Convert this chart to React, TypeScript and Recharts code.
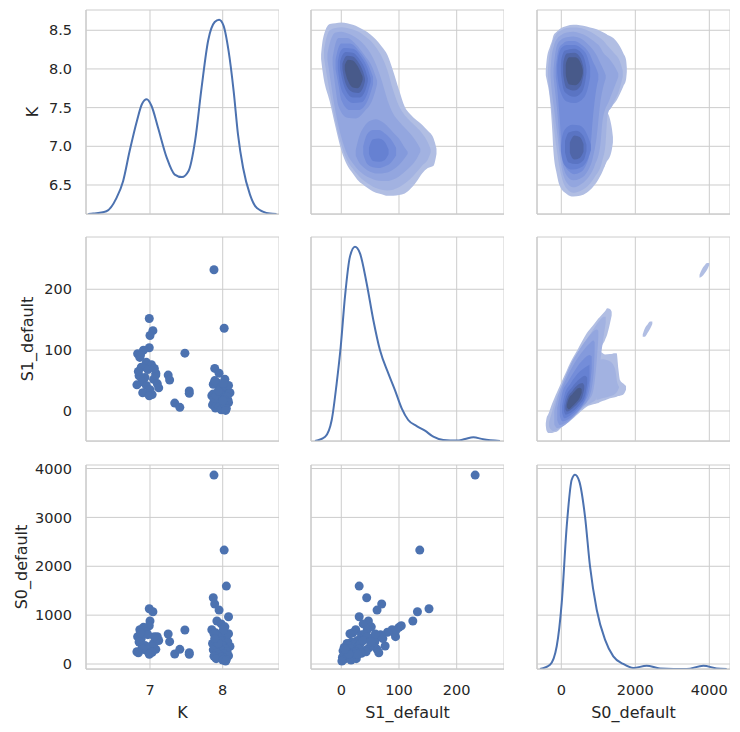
import React from 'react';
import { ComposedChart, Scatter, Line, Area, XAxis, YAxis, CartesianGrid, Label } from 'recharts';

const K = [
  7.88, 8.02, 8.05, 7.87, 7.89, 7.95, 8.08, 7.92, 7.98, 7.85,
  8.03, 7.90, 7.95, 8.05, 7.88, 7.97, 8.07, 7.86, 7.93, 8.00,
  8.10, 7.90, 7.96, 8.04, 7.87, 7.99, 8.06, 7.92, 8.02, 7.95,
  8.08, 7.88, 7.98, 8.03, 7.91, 8.05, 8.00, 8.04, 7.94, 8.08,
  7.89, 8.01,
  6.99, 7.04, 7.00, 6.99, 6.91, 6.83, 6.86, 6.95, 7.02, 6.88,
  6.97, 7.08, 6.85, 6.93, 7.05, 6.89, 7.10, 6.95, 6.82, 7.12,
  7.00, 6.90, 7.03, 6.99, 7.08, 6.87, 7.06, 6.84,
  7.25, 7.27, 7.34, 7.41, 7.54, 7.54, 7.48,
];
const S1 = [
  232, 136, 31, 44, 70, 62, 31, 47, 38, 25,
  52, 20, 35, 40, 15, 28, 18, 10, 22, 12,
  30, 5, 16, 8, 28, 3, 24, 12, 19, 7,
  14, 21, 2, 10, 26, 4, 17, 1, 33, 42,
  50, 45,
  152, 132, 124, 104, 100, 94, 88, 80, 76, 72,
  68, 62, 58, 55, 52, 48, 45, 42, 43, 38,
  35, 30, 27, 25, 59, 92, 70, 65,
  59, 51, 13, 6, 33, 29, 95,
];
const S0 = [
  3865, 2331, 1595, 1356, 1227, 1104, 967, 880, 820, 700,
  760, 640, 600, 560, 620, 480, 450, 420, 400, 380,
  360, 340, 320, 300, 290, 270, 250, 230, 210, 190,
  170, 160, 140, 120, 110, 90, 80, 60, 420, 620,
  520, 700,
  1131, 1070, 879, 783, 750, 560, 700, 650, 368, 520,
  600, 300, 450, 380, 420, 330, 560, 280, 250, 480,
  220, 300, 240, 200, 520, 640, 560, 230,
  613, 457, 204, 300, 232, 200, 695,
];

// ---------- diagonal density curves [value, relative density] ----------
const kdeK = [
  [6.15, 0], [6.22, 0.002], [6.40, 0.014], [6.54, 0.083], [6.63, 0.169], [6.72, 0.324], [6.82, 0.479],
  [6.89, 0.566], [6.955, 0.59], [7.02, 0.557], [7.11, 0.445], [7.23, 0.29], [7.34, 0.203],
  [7.44, 0.19], [7.53, 0.221], [7.62, 0.376], [7.71, 0.652], [7.80, 0.893], [7.89, 0.988],
  [7.95, 1.0], [8.01, 0.971], [8.08, 0.841], [8.15, 0.634], [8.21, 0.41], [8.28, 0.238],
  [8.375, 0.1], [8.47, 0.031], [8.65, 0.002], [8.74, 0],
];
const kdeS1 = [
  [-45.6, 0], [-28, 0.022], [-16.6, 0.108], [-8, 0.297], [-1, 0.485], [6.4, 0.743], [15, 0.949],
  [23.7, 1.0], [32.4, 0.966], [44, 0.811], [55.5, 0.623], [67, 0.468], [81.5, 0.348],
  [93, 0.262], [104.7, 0.168], [116, 0.108], [130.7, 0.077], [145, 0.053], [159.5, 0.022],
  [176.8, 0.005], [200, 0.002], [214.4, 0.010], [228.8, 0.019], [246, 0.009], [275, 0],
];
const kdeS0 = [
  [-576, 0], [-305, 0.022], [-124, 0.117], [11, 0.34], [146, 0.734], [281, 0.974], [370, 1.0],
  [486, 0.966], [640, 0.786], [776, 0.528], [957, 0.305], [1181, 0.151], [1405, 0.065],
  [1676, 0.026], [1946, 0.005], [2308, 0.017], [2668, 0.003], [3389, 0], [3838, 0.017],
  [4200, 0.003], [4470, 0],
];

// ---------- density contours, [x, low, high], level 1 (outer) .. 9 (inner) ----------
// panel x = S1_default, y = K
const ks1L1 = [[-35, 8.13, 8.19], [-32, 7.95, 8.38], [-20, 7.58, 8.58], [-10, 7.25, 8.59], [0, 6.95, 8.60], [10, 6.76, 8.59], [20, 6.65, 8.57], [30, 6.55, 8.54], [40, 6.49, 8.50], [50, 6.44, 8.45], [60, 6.40, 8.38], [70, 6.38, 8.29], [80, 6.36, 8.18], [90, 6.36, 7.97], [100, 6.37, 7.73], [110, 6.39, 7.51], [120, 6.45, 7.41], [130, 6.54, 7.34], [140, 6.65, 7.28], [150, 6.72, 7.20], [160, 6.75, 7.10], [165, 6.90, 6.97]];
const ks1L2 = [[-30, 8.15, 8.25], [-28, 8.05, 8.33], [-20, 7.70, 8.50], [-10, 7.32, 8.53], [0, 7.02, 8.54], [10, 6.82, 8.53], [20, 6.71, 8.51], [30, 6.62, 8.48], [40, 6.55, 8.43], [50, 6.50, 8.37], [60, 6.46, 8.28], [70, 6.44, 8.16], [80, 6.43, 7.98], [90, 6.44, 7.72], [100, 6.47, 7.52], [110, 6.52, 7.40], [120, 6.58, 7.32], [130, 6.66, 7.25], [140, 6.75, 7.17], [150, 6.83, 7.05], [155, 6.92, 6.96]];
const ks1L3 = [[-24, 8.12, 8.2], [-22, 8.02, 8.27], [-10, 7.45, 8.47], [0, 7.12, 8.48], [10, 6.90, 8.46], [20, 6.78, 8.43], [30, 6.69, 8.38], [40, 6.63, 8.31], [50, 6.59, 8.21], [60, 6.56, 8.06], [70, 6.55, 7.85], [80, 6.55, 7.60], [90, 6.57, 7.42], [100, 6.61, 7.32], [110, 6.67, 7.24], [120, 6.74, 7.16], [130, 6.83, 7.06], [137, 6.93, 6.97]];
const ks1L4u = [[-15, 8.05, 8.15], [-10, 7.75, 8.33], [-5, 7.52, 8.40], [10, 7.37, 8.40], [25, 7.36, 8.32], [40, 7.45, 8.18], [55, 7.62, 8.00], [62, 7.80, 7.85]];
const ks1L5u = [[-10, 8.0, 8.12], [-5, 7.80, 8.27], [0, 7.60, 8.33], [15, 7.47, 8.33], [30, 7.47, 8.24], [45, 7.58, 8.08], [55, 7.80, 7.90]];
const ks1L6u = [[-6, 8.0, 8.1], [-2, 7.8, 8.22], [5, 7.66, 8.27], [20, 7.56, 8.26], [35, 7.57, 8.15], [46, 7.70, 8.00], [51, 7.83, 7.88]];
const ks1L7u = [[-2, 8.0, 8.1], [2, 7.85, 8.18], [8, 7.72, 8.22], [20, 7.63, 8.21], [32, 7.63, 8.12], [42, 7.73, 7.98], [46, 7.84, 7.88]];
const ks1L8u = [[2, 8.0, 8.07], [5, 7.88, 8.13], [10, 7.77, 8.17], [20, 7.70, 8.16], [30, 7.69, 8.08], [38, 7.76, 7.96], [41, 7.84, 7.88]];
const ks1L9u = [[6, 7.99, 8.05], [9, 7.90, 8.10], [12, 7.84, 8.12], [20, 7.76, 8.11], [28, 7.75, 8.04], [34, 7.80, 7.95], [37, 7.86, 7.90]];
const ks1L4l = [[25, 6.88, 6.95], [30, 6.80, 7.10], [40, 6.72, 7.26], [50, 6.67, 7.33], [60, 6.65, 7.35], [70, 6.65, 7.32], [80, 6.66, 7.26], [90, 6.70, 7.18], [100, 6.76, 7.10], [110, 6.85, 6.98], [115, 6.90, 6.93]];
const ks1L5l = [[38, 6.90, 7.00], [45, 6.77, 7.16], [55, 6.73, 7.21], [65, 6.72, 7.21], [75, 6.74, 7.17], [85, 6.78, 7.10], [95, 6.88, 6.98]];
const ks1L6l = [[48, 6.90, 6.98], [55, 6.81, 7.09], [65, 6.80, 7.10], [75, 6.82, 7.06], [82, 6.90, 6.96]];

// panel x = S0_default, y = K
const ks0L1 = [[-420, 7.92, 7.98], [-395, 7.86, 8.12], [-305, 7.60, 8.29], [-240, 7.17, 8.38], [-215, 6.95, 8.43], [-126, 6.65, 8.48], [-35, 6.48, 8.52], [145, 6.385, 8.555], [325, 6.35, 8.57], [505, 6.36, 8.565], [686, 6.40, 8.55], [866, 6.48, 8.525], [1046, 6.61, 8.495], [1181, 6.76, 8.46], [1244, 6.87, 8.44]];
const ks0L1u = [[1200, 7.46, 8.45], [1300, 7.47, 8.43], [1406, 7.54, 8.40], [1500, 7.60, 8.35], [1586, 7.68, 8.29], [1680, 7.78, 8.20], [1749, 7.86, 8.12], [1770, 7.96, 8.02]];
const ks0L1l = [[1150, 6.72, 7.45], [1226, 6.80, 7.44], [1316, 6.87, 7.35], [1370, 6.97, 7.22], [1395, 7.05, 7.12]];
const ks0L2 = [[-360, 7.9, 8.0], [-330, 7.75, 8.14], [-250, 7.45, 8.33], [-150, 7.05, 8.44], [0, 6.62, 8.50], [150, 6.45, 8.53], [325, 6.40, 8.535], [500, 6.42, 8.53], [700, 6.48, 8.50], [900, 6.60, 8.45], [1100, 6.80, 8.38], [1200, 7.05, 8.33], [1250, 7.40, 8.30], [1400, 7.55, 8.22], [1580, 7.75, 8.10], [1660, 7.90, 7.98]];
const ks0L3 = [[-290, 7.9, 8.0], [-270, 7.78, 8.12], [-200, 7.50, 8.30], [-100, 7.12, 8.40], [0, 6.75, 8.44], [150, 6.53, 8.47], [325, 6.47, 8.48], [500, 6.50, 8.46], [700, 6.58, 8.42], [900, 6.75, 8.35], [1050, 7.00, 8.28], [1120, 7.35, 8.22], [1300, 7.60, 8.13], [1480, 7.82, 8.00], [1540, 7.90, 7.94]];
const ks0L4 = [[-210, 7.9, 8.0], [-200, 7.85, 8.05], [-120, 7.50, 8.30], [0, 6.88, 8.38], [150, 6.62, 8.41], [325, 6.56, 8.42], [500, 6.58, 8.40], [700, 6.67, 8.33], [850, 6.85, 8.25], [950, 7.10, 8.18], [1050, 7.55, 8.08], [1150, 7.80, 7.98], [1200, 7.88, 7.92]];
const ks0L5 = [[-150, 7.9, 8.02], [-100, 7.7, 8.2], [-50, 7.40, 8.28], [50, 6.82, 8.33], [200, 6.68, 8.36], [350, 6.64, 8.36], [500, 6.66, 8.33], [650, 6.74, 8.27], [780, 6.95, 8.18], [850, 7.35, 8.10], [950, 7.75, 8.00], [1000, 7.86, 7.93]];
const ks0L6u = [[-110, 7.95, 8.05], [-100, 7.90, 8.10], [0, 7.68, 8.27], [150, 7.58, 8.31], [350, 7.56, 8.31], [550, 7.60, 8.26], [700, 7.72, 8.16], [780, 7.90, 8.02]];
const ks0L7u = [[-10, 7.95, 8.06], [0, 7.90, 8.12], [100, 7.70, 8.24], [350, 7.64, 8.26], [550, 7.70, 8.20], [660, 7.88, 8.06], [680, 7.95, 8.0]];
const ks0L8u = [[50, 7.95, 8.05], [60, 7.90, 8.10], [150, 7.75, 8.20], [350, 7.72, 8.21], [520, 7.78, 8.14], [600, 7.92, 8.02]];
const ks0L9u = [[120, 7.95, 8.04], [130, 7.90, 8.08], [220, 7.80, 8.15], [380, 7.79, 8.15], [530, 7.86, 8.07], [580, 7.94, 7.99]];
const ks0L6l = [[-10, 6.94, 7.0], [0, 6.90, 7.05], [100, 6.75, 7.22], [300, 6.70, 7.28], [500, 6.72, 7.27], [700, 6.82, 7.15], [800, 6.95, 7.02]];
const ks0L7l = [[100, 6.92, 7.07], [200, 6.79, 7.18], [400, 6.77, 7.20], [600, 6.82, 7.13], [680, 6.94, 7.02]];
const ks0L8l = [[230, 6.92, 7.05], [260, 6.88, 7.08], [350, 6.83, 7.14], [500, 6.85, 7.12], [600, 6.93, 7.03]];

// panel x = S0_default, y = S1_default
const s0s1L1 = [[-420, -24, -20], [-400, -32, -12], [-350, -36, -5], [-250, -36, 12], [-171, -34.5, 23.6], [-126, -34, 29.5], [0, -27, 47], [145, -20.3, 66.3], [235, -16.4, 78.3], [460, -4.4, 103], [686, 7.1, 127.6], [866, 11, 141.4], [1000, 14, 152], [1046, 97, 155], [1181, 116.7, 163.7], [1244, 126.5, 168.7], [1316, 144, 167.6], [1361, 157, 163]];
const s0s1L1p = [[980, 12.5, 95], [1046, 14.8, 97.4], [1181, 17.6, 93], [1316, 20.8, 93.5], [1450, 22.5, 95], [1496, 23.6, 94.8], [1541, 24.5, 70], [1586, 25, 51], [1676, 27, 45], [1749, 35, 41]];
const s0s1I1 = [[2200, 122, 126], [2260, 122, 136], [2330, 128, 142], [2400, 135, 147], [2460, 143, 147]];
const s0s1I2 = [[3735, 219, 224], [3800, 221, 233], [3870, 226, 239], [3940, 232, 243], [4000, 240, 243]];
const s0s1L2 = [[-330, -26, -18], [-300, -29, -12], [-200, -33, 10], [0, -26, 40], [200, -16, 66], [400, -5, 90], [600, 6, 110], [800, 13, 128], [950, 20, 142], [1050, 80, 150], [1150, 125, 155], [1200, 145, 155]];
const s0s1L2p = [[950, 18, 80], [1100, 21, 85], [1300, 24, 82], [1450, 28, 70], [1520, 33, 45], [1560, 38, 40]];
const s0s1L3 = [[-190, -22, 0], [-110, -28, 20], [100, -23, 55], [300, -12, 82], [500, 1, 102], [700, 15, 119], [850, 30, 130], [960, 85, 134], [1000, 120, 132]];
const s0s1L4 = [[-110, -15, 5], [-40, -23, 25], [150, -18, 55], [350, -8, 78], [550, 6, 96], [750, 22, 110], [870, 60, 116], [900, 100, 113]];
const s0s1L5 = [[-40, -8, 8], [20, -17, 28], [200, -13, 50], [400, -3, 70], [600, 12, 85], [760, 35, 92], [820, 70, 90]];
const s0s1L6 = [[20, -3, 8], [80, -12, 25], [250, -7, 45], [450, 4, 62], [650, 20, 72], [760, 50, 76]];
const s0s1L7 = [[70, 0, 8], [120, -6, 22], [300, -1, 40], [500, 11, 53], [640, 25, 58], [700, 45, 55]];
const s0s1L8 = [[110, 3, 8], [160, -1, 20], [300, 4, 33], [450, 13, 43], [570, 24, 46], [620, 36, 42]];
const s0s1L9 = [[150, 6, 10], [200, 3, 20], [300, 8, 28], [400, 14, 35], [500, 22, 38], [550, 30, 36]];

// ---------- ticks ----------
const kTicks = [7, 8];
const kYTicks = [6.5, 7, 7.5, 8, 8.5];
const s1Ticks = [0, 100, 200];
const s0XTicks = [0, 2000, 4000];
const s0YTicks = [0, 1000, 2000, 3000, 4000];

const BLUE = '#4c72b0';
const BANDS = ['#b1bee3', '#a2b2e1', '#93a6df', '#849adc', '#748dd9', '#6681d2', '#5a74c3', '#5066a8', '#485a8a'];
const GRID = '#cccccc';
const TXT = '#262626';
const FONT = 'DejaVu Sans';

const PW = 193;
const PH = 204;
const YW = 86;
const XH = 70;
const MT = 12;
const COLS = [86, 311, 537];
const ROWS = [10, 237, 465];

const xy = (xs: number[], ys: number[]) => xs.map((x, i) => ({ x, y: ys[i] }));
const pairs = (arr: number[][]) => arr.map(([x, y]) => ({ x, y }));
const range = (arr: number[][]) => arr.map(([x, lo, hi]) => ({ x, r: [lo, hi] }));

const TICK = { fill: TXT, fontSize: 14.5, fontFamily: FONT };
const NoTick = () => <g />;
const dot = (p: any) => <circle cx={p.cx} cy={p.cy} r={4.5} fill={BLUE} />;

const kX: [number, number] = [6.12, 8.774];
const kY: [number, number] = [6.125, 8.762];
const s1X: [number, number] = [-52.5, 282];
const s1Y: [number, number] = [-49.3, 285.9];
const s0X: [number, number] = [-657, 4559];
const s0Y: [number, number] = [-102, 4072];

type PanelProps = {
  col: number;
  row: number;
  xd: [number, number];
  xt: number[];
  yd: [number, number];
  yt: number[];
  yFmt?: (v: number) => string;
  xLabel?: string;
  yLabel?: string;
  yLabelX?: number;
  kde?: boolean;
  layers?: [number[][], number][];
  children?: React.ReactNode;
};

function Panel({ col, row, xd, xt, yd, yt, yFmt, xLabel, yLabel, yLabelX, kde, layers, children }: PanelProps) {
  const left = COLS[col] - YW;
  const top = ROWS[row] - MT;
  const showX = row === 2;
  const showY = col === 0;
  const W = YW + PW;
  const H = MT + PH + XH;
  return (
    <div style={{ position: 'absolute', left, top, width: W, height: H }}>
      <div style={{ position: 'absolute', left: 0, top: 0 }}>
        <ComposedChart width={W} height={H} margin={{ top: MT, right: 0, bottom: 0, left: 0 }}>
          <CartesianGrid stroke={GRID} strokeWidth={1} fill="none" />
          <XAxis
            type="number"
            dataKey="x"
            domain={xd}
            ticks={xt}
            allowDataOverflow
            interval={0}
            height={XH}
            tickSize={0}
            tickMargin={16}
            tickLine={false}
            axisLine={{ stroke: GRID, strokeWidth: 1.25 }}
            tick={showX ? TICK : NoTick}
          >
            {xLabel ? (
              <Label
                content={() => (
                  <text x={YW + PW / 2} y={MT + PH + 49} textAnchor="middle" fill={TXT} fontSize={16} fontFamily={FONT}>
                    {xLabel}
                  </text>
                )}
              />
            ) : null}
          </XAxis>
          <YAxis
            type="number"
            domain={yd}
            ticks={yt}
            allowDataOverflow
            interval={0}
            width={YW}
            tickSize={0}
            tickMargin={14}
            tickLine={false}
            axisLine={{ stroke: GRID, strokeWidth: 1.25 }}
            tick={showY ? TICK : NoTick}
            tickFormatter={yFmt}
          >
            {yLabel ? (
              <Label
                content={() => (
                  <text
                    x={yLabelX}
                    y={MT + PH / 2}
                    transform={`rotate(-90, ${yLabelX}, ${MT + PH / 2})`}
                    textAnchor="middle"
                    fill={TXT}
                    fontSize={16}
                    fontFamily={FONT}
                  >
                    {yLabel}
                  </text>
                )}
              />
            ) : null}
          </YAxis>
          {kde ? <YAxis yAxisId="kde" type="number" hide domain={[0, 1.05]} allowDataOverflow /> : null}
          {children}
        </ComposedChart>
      </div>
      {layers ? (
        <div style={{ position: 'absolute', left: 0, top: 0 }}>
          <ComposedChart width={W} height={H} margin={{ top: MT, right: 0, bottom: XH, left: YW }}>
            <XAxis type="number" dataKey="x" domain={xd} allowDataOverflow hide />
            <YAxis type="number" domain={yd} allowDataOverflow hide />
            {layers.map(([d, b], i) => (
              <Area
                key={'a' + i}
                data={range(d)}
                dataKey="r"
                type="monotone"
                fill={BANDS[b - 1]}
                fillOpacity={1}
                stroke="none"
                dot={false}
                activeDot={false}
                isAnimationActive={false}
              />
            ))}
          </ComposedChart>
        </div>
      ) : null}
    </div>
  );
}

const kdeLine = (d: number[][]) => (
  <Line
    yAxisId="kde"
    data={pairs(d)}
    dataKey="y"
    type="monotone"
    stroke={BLUE}
    strokeWidth={2}
    dot={false}
    activeDot={false}
    isAnimationActive={false}
  />
);

export default function App() {
  return (
    <div style={{ position: 'absolute', left: 0, top: 0, width: 740, height: 732, background: '#fff', overflow: 'hidden' }}>
      {/* row 1 */}
      <Panel col={0} row={0} xd={kX} xt={kTicks} yd={kY} yt={kYTicks} yFmt={(v) => v.toFixed(1)} yLabel="K" yLabelX={37.5} kde>
        {kdeLine(kdeK)}
      </Panel>
      <Panel
        col={1}
        row={0}
        xd={s1X}
        xt={s1Ticks}
        yd={kY}
        yt={kYTicks}
        layers={[
          [ks1L1, 1], [ks1L2, 2], [ks1L3, 3],
          [ks1L4u, 4], [ks1L4l, 4], [ks1L5u, 5], [ks1L5l, 5], [ks1L6u, 6], [ks1L6l, 6],
          [ks1L7u, 7], [ks1L8u, 8], [ks1L9u, 9],
        ]}
      />
      <Panel
        col={2}
        row={0}
        xd={s0X}
        xt={s0XTicks}
        yd={kY}
        yt={kYTicks}
        layers={[
          [ks0L1, 1], [ks0L1u, 1], [ks0L1l, 1], [ks0L2, 2], [ks0L3, 3], [ks0L4, 4], [ks0L5, 5],
          [ks0L6u, 6], [ks0L6l, 6], [ks0L7u, 7], [ks0L7l, 7], [ks0L8u, 8], [ks0L8l, 8], [ks0L9u, 9],
        ]}
      />

      {/* row 2 */}
      <Panel col={0} row={1} xd={kX} xt={kTicks} yd={s1Y} yt={s1Ticks} yLabel="S1_default" yLabelX={33}>
        <Scatter data={xy(K, S1)} dataKey="y" fill={BLUE} shape={dot} isAnimationActive={false} />
      </Panel>
      <Panel col={1} row={1} xd={s1X} xt={s1Ticks} yd={s1Y} yt={s1Ticks} kde>
        {kdeLine(kdeS1)}
      </Panel>
      <Panel
        col={2}
        row={1}
        xd={s0X}
        xt={s0XTicks}
        yd={s1Y}
        yt={s1Ticks}
        layers={[
          [s0s1L1, 1], [s0s1L1p, 1], [s0s1I1, 1], [s0s1I2, 1], [s0s1L2, 2], [s0s1L2p, 2], [s0s1L3, 3],
          [s0s1L4, 4], [s0s1L5, 5], [s0s1L6, 6], [s0s1L7, 7], [s0s1L8, 8], [s0s1L9, 9],
        ]}
      />

      {/* row 3 */}
      <Panel col={0} row={2} xd={kX} xt={kTicks} yd={s0Y} yt={s0YTicks} xLabel="K" yLabel="S0_default" yLabelX={27}>
        <Scatter data={xy(K, S0)} dataKey="y" fill={BLUE} shape={dot} isAnimationActive={false} />
      </Panel>
      <Panel col={1} row={2} xd={s1X} xt={s1Ticks} yd={s0Y} yt={s0YTicks} xLabel="S1_default">
        <Scatter data={xy(S1, S0)} dataKey="y" fill={BLUE} shape={dot} isAnimationActive={false} />
      </Panel>
      <Panel col={2} row={2} xd={s0X} xt={s0XTicks} yd={s0Y} yt={s0YTicks} xLabel="S0_default" kde>
        {kdeLine(kdeS0)}
      </Panel>
    </div>
  );
}
